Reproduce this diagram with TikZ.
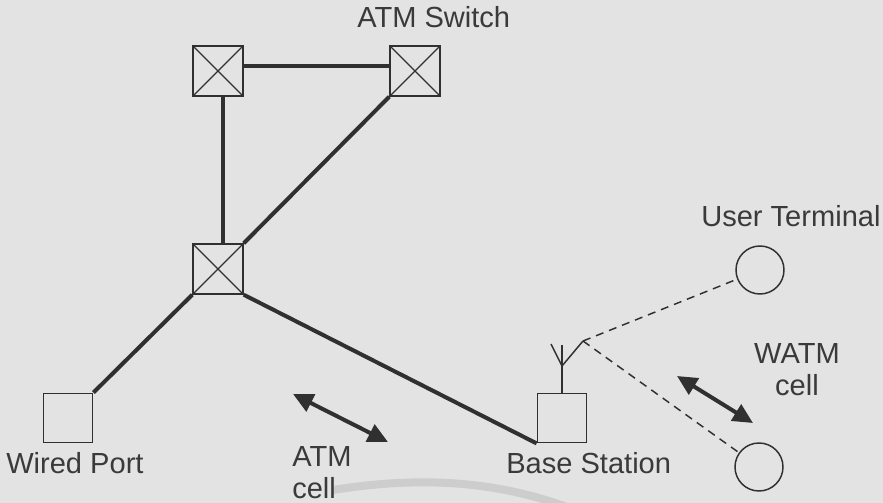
\documentclass[tikz,border=0pt]{standalone}
\usepackage{fontspec}
\setmainfont{Liberation Sans}
\usepackage{xcolor}
\usetikzlibrary{arrows.meta, positioning}

\definecolor{paper}{HTML}{E3E3E3}
\definecolor{inkline}{HTML}{303030}
\definecolor{inktext}{HTML}{3A3A3A}
\definecolor{scanband}{HTML}{CDCDCD}

\begin{document}
\begin{tikzpicture}[
    x=0.75pt, y=-0.75pt,
    atmswitch/.style = {rectangle, draw=inkline, line width=1.1pt, minimum size=37.5pt, inner sep=0pt,
        path picture={\draw[inkline, line width=0.9pt]
            (path picture bounding box.south west) -- (path picture bounding box.north east)
            (path picture bounding box.north west) -- (path picture bounding box.south east);}},
    portbox/.style = {rectangle, draw=inkline, line width=1.1pt, minimum size=37pt, inner sep=0pt},
    userterm/.style = {circle, draw=inkline, line width=1.1pt, minimum size=36pt, inner sep=0pt},
    trunk/.style = {draw=inkline, line width=3pt},
    radiolink/.style = {draw=inkline, line width=1.1pt, dash pattern=on 6pt off 4.5pt},
    cellflow/.style = {draw=inkline, line width=3pt, {Triangle[length=15pt, width=14pt]}-{Triangle[length=15pt, width=14pt]}},
    lbl/.style = {text=inktext, inner sep=0pt, font=\fontsize{21.8}{24}\selectfont}
]

\useasboundingbox (0,0) rectangle (883,503);
\fill[paper] (0,0) rectangle (883,503);
\begin{scope}
\clip (0,0) rectangle (883,503);
\draw[scanband, line width=6pt] (333,490) .. controls (420,476) and (500,480) .. (580,512);
\end{scope}

\node [atmswitch] (sw1) at (218, 71) {};
\node [atmswitch] (sw2) at (415, 71) {};
\node [atmswitch] (sw3) at (218, 269) {};

\node [portbox] (wired) at (68, 418) {};
\node [portbox] (base) at (562, 418) {};

\node [userterm] (ut1) at (760, 270) {};
\node [userterm] (ut2) at (759, 467) {};

\coordinate (anttop) at (562, 345);
\coordinate (antmid) at (562, 366);
\coordinate (antleft) at (551, 344);
\coordinate (anttip) at (583, 341);

\coordinate (atmA) at (293, 394);
\coordinate (atmB) at (388, 442);
\coordinate (watmA) at (677, 376);
\coordinate (watmB) at (753, 423);

\draw[trunk] ([yshift=3.75pt]sw1.east) -- ([yshift=3.75pt]sw2.west);
\draw[trunk] ([xshift=3.75pt]sw1.south) -- ([xshift=3.75pt]sw3.north);
\draw[trunk] (sw2.south west) -- (sw3.north east);
\draw[trunk] (sw3.south west) -- (wired.north east);
\draw[trunk] (sw3.south east) -- (base.south west);

\draw[inkline, line width=1.1pt] (base.north) -- (anttop);
\draw[inkline, line width=1.1pt] (antleft) -- (antmid) -- (anttip);

\draw[radiolink] (anttip) -- (ut1);
\draw[radiolink] (anttip) -- (ut2);

\draw[cellflow] (atmA) -- (atmB);
\draw[cellflow] (watmA) -- (watmB);

\node [lbl, anchor=base west] (swlabel) at (357, 28) {ATM Switch};
\node [lbl, anchor=base west] (utlabel) at (701, 227) {User Terminal};
\node [lbl, anchor=base west] (wiredlabel) at (6, 473) {Wired Port};
\node [lbl, anchor=base west] (baselabel) at (506, 473) {Base Station};
\node [lbl, anchor=base west, align=left] (atmlabel) at (292, 498) {ATM\\cell};
\node [lbl, anchor=base, align=center] (watmlabel) at (797, 395) {WATM\\cell};

\end{tikzpicture}
\end{document}
